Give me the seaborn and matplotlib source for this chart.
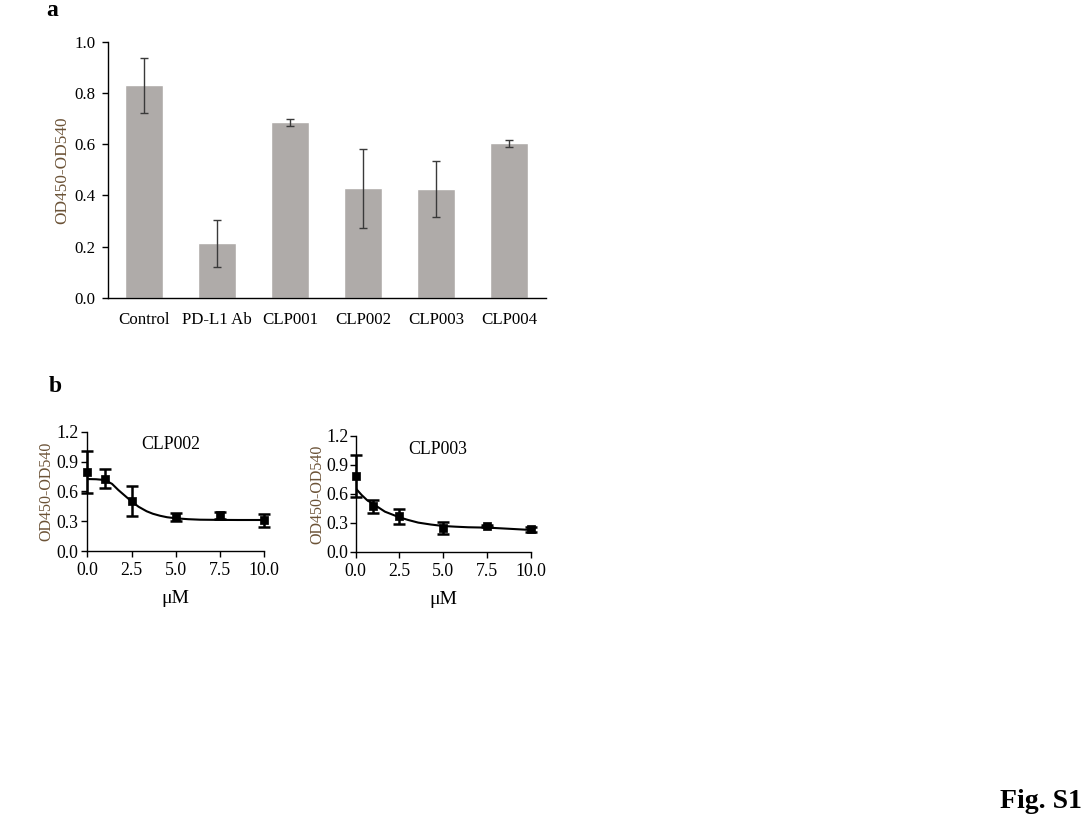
import matplotlib
matplotlib.use("Agg")
import matplotlib.pyplot as plt
import seaborn as sns
import pandas as pd

# panel a: bar values
groups = ["Control", "PD-L1 Ab", "CLP001", "CLP002", "CLP003", "CLP004"]
od_mean = [0.830, 0.213, 0.686, 0.428, 0.425, 0.604]
od_err = [0.108, 0.093, 0.013, 0.155, 0.108, 0.013]

# panel b: dose response points
dose = [0.0, 1.0, 2.5, 5.0, 7.5, 10.0]
clp002_mean = [0.798, 0.727, 0.500, 0.340, 0.359, 0.310]
clp002_err = [0.210, 0.098, 0.150, 0.040, 0.032, 0.065]
clp003_mean = [0.781, 0.470, 0.367, 0.250, 0.268, 0.234]
clp003_err = [0.215, 0.066, 0.078, 0.062, 0.012, 0.026]

# fitted curves
fit002_x = [0.0, 0.5, 1.0, 1.4, 1.75, 2.1, 2.47, 2.9, 3.35, 3.7, 4.1, 4.5, 5.0, 5.7, 6.37, 7.5, 8.5, 10.0]
fit002_y = [0.724, 0.722, 0.714, 0.675, 0.614, 0.560, 0.503, 0.445, 0.400, 0.375, 0.355, 0.340, 0.329, 0.320, 0.315, 0.313, 0.312, 0.312]
fit003_x = [0.0, 0.34, 0.65, 1.0, 1.67, 2.49, 3.0, 3.57, 4.3, 5.0, 5.7, 6.42, 7.56, 8.7, 10.0]
fit003_y = [0.657, 0.588, 0.535, 0.495, 0.416, 0.358, 0.330, 0.303, 0.283, 0.268, 0.261, 0.255, 0.251, 0.240, 0.227]

sns.set_theme(style="ticks")
plt.rcParams["font.family"] = ["Liberation Serif", "DejaVu Serif"]
plt.rcParams["text.color"] = "black"
plt.rcParams["axes.labelcolor"] = "black"
plt.rcParams["xtick.color"] = "black"
plt.rcParams["ytick.color"] = "black"

label_col = "#6b5236"
bar_col = "#afaba9"

fig = plt.figure(figsize=(10.86, 8.18), dpi=100)

# ---- panel a
ax = fig.add_axes([0.0992, 0.6357, 0.4033, 0.3133])
df = pd.DataFrame({"group": groups, "od": od_mean})
sns.barplot(data=df, x="group", y="od", color=bar_col, width=0.52,
            saturation=1, errorbar=None, ax=ax)
ax.errorbar(range(len(groups)), od_mean, yerr=od_err, fmt="none",
            ecolor="#3a3a3a", elinewidth=1.0, capsize=3, capthick=1.0)
ax.set_xlim(-0.5, 5.5)
ax.set_ylim(0, 1.0)
ax.set_yticks([0.0, 0.2, 0.4, 0.6, 0.8, 1.0])
ax.set_yticklabels(["0.0", "0.2", "0.4", "0.6", "0.8", "1.0"])
ax.set_xlabel("")
ax.set_ylabel("OD450-OD540", color=label_col, fontsize=12.4, labelpad=3)
ax.tick_params(axis="y", length=4, width=1, labelsize=12.2, pad=5)
ax.tick_params(axis="x", length=0, labelsize=12.2, pad=10)
for s in ["top", "right"]:
    ax.spines[s].set_visible(False)
for s in ["left", "bottom"]:
    ax.spines[s].set_linewidth(1.0)
    ax.spines[s].set_color("black")

# ---- panel b
def dose_panel(rect, mean, err, fx, fy, title, title_xy, ypad):
    bx = fig.add_axes(rect)
    sns.lineplot(x=fx, y=fy, color="black", linewidth=1.5, ax=bx)
    bx.errorbar(dose, mean, yerr=err, fmt="none", ecolor="black",
                elinewidth=1.8, capsize=4.5, capthick=1.8, clip_on=False, zorder=3)
    sns.scatterplot(x=dose, y=mean, marker="s", s=40, color="black",
                    edgecolor="black", ax=bx, clip_on=False, zorder=4)
    bx.set_xlim(0, 10)
    bx.set_ylim(0, 1.2)
    bx.set_xticks([0.0, 2.5, 5.0, 7.5, 10.0])
    bx.set_xticklabels(["0.0", "2.5", "5.0", "7.5", "10.0"])
    bx.set_yticks([0.0, 0.3, 0.6, 0.9, 1.2])
    bx.set_yticklabels(["0.0", "0.3", "0.6", "0.9", "1.2"])
    bx.set_xlabel("μM", fontsize=14, labelpad=8)
    bx.set_ylabel("OD450-OD540", color=label_col, fontsize=11.5, labelpad=1)
    bx.tick_params(axis="x", length=4, width=1, labelsize=12.8, pad=4)
    bx.tick_params(axis="y", length=4, width=1, labelsize=12.8, pad=ypad)
    for s in ["top", "right"]:
        bx.spines[s].set_visible(False)
    for s in ["left", "bottom"]:
        bx.spines[s].set_linewidth(1.0)
        bx.spines[s].set_color("black")
    bx.text(title_xy[0], title_xy[1], title, transform=bx.transAxes,
            fontsize=12.8, ha="center", va="center")
    return bx

dose_panel([0.0804, 0.3264, 0.163, 0.1458], clp002_mean, clp002_err,
           fit002_x, fit002_y, "CLP002", (0.47, 0.89), 2.5)
dose_panel([0.3275, 0.3252, 0.1614, 0.1422], clp003_mean, clp003_err,
           fit003_x, fit003_y, "CLP003", (0.47, 0.88), 1)

fig.text(46 / 1086, 1 - 10 / 818, "a", fontsize=17, fontweight="bold", va="center")
fig.text(49 / 1086, 1 - 386 / 818, "b", fontsize=17, fontweight="bold", va="center")
fig.text(1082 / 1086, 1 - 801 / 818, "Fig. S1", fontsize=20, fontweight="bold",
         ha="right", va="center")

fig.savefig("out.png", dpi=100)
